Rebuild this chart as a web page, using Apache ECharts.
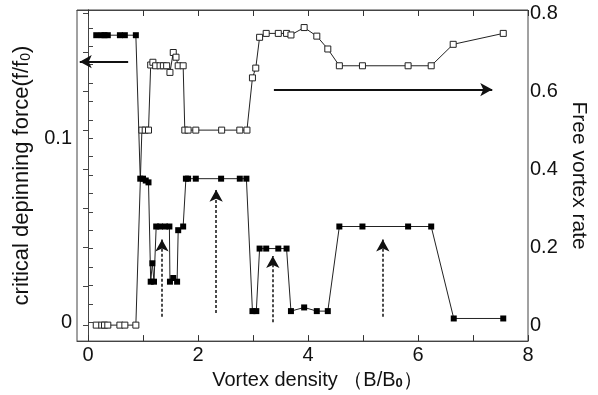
<!DOCTYPE html>
<html>
<head>
<meta charset="utf-8">
<script src="https://cdn.jsdelivr.net/npm/echarts@6/dist/echarts.min.js"></script>
<style>
  html, body { margin: 0; padding: 0; background: #fff; }
  #chart { width: 598px; height: 395px; }
</style>
</head>
<body>
<div id="chart"></div>
<script>
// critical depinning force (left axis, filled squares)
const forceX = [0.15, 0.25, 0.30, 0.36, 0.58, 0.67, 0.87, 0.95, 1.00, 1.05, 1.10, 1.14, 1.17, 1.20, 1.24, 1.31, 1.40, 1.48, 1.49, 1.55, 1.62, 1.64, 1.73, 1.78, 1.82, 1.96, 2.42, 2.76, 2.88, 2.99, 3.06, 3.12, 3.24, 3.46, 3.61, 3.69, 3.93, 4.16, 4.36, 4.57, 4.99, 5.82, 6.24, 6.65, 7.55]
const forceY = [0.156, 0.156, 0.156, 0.156, 0.156, 0.156, 0.156, 0.078, 0.078, 0.077, 0.076, 0.022, 0.032, 0.022, 0.052, 0.052, 0.052, 0.052, 0.022, 0.024, 0.022, 0.050, 0.052, 0.078, 0.078, 0.078, 0.078, 0.078, 0.078, 0.006, 0.006, 0.040, 0.040, 0.040, 0.040, 0.006, 0.008, 0.006, 0.006, 0.052, 0.052, 0.052, 0.052, 0.002, 0.002]

// free vortex rate (right axis, open squares)
const rateX = [0.15, 0.25, 0.30, 0.36, 0.58, 0.67, 0.87, 0.98, 1.04, 1.10, 1.14, 1.18, 1.23, 1.31, 1.37, 1.43, 1.49, 1.55, 1.60, 1.64, 1.73, 1.76, 1.82, 1.96, 2.43, 2.76, 2.89, 2.99, 3.05, 3.12, 3.24, 3.46, 3.61, 3.69, 3.93, 4.16, 4.36, 4.57, 4.99, 5.82, 6.24, 6.64, 7.55]
const rateY = [0, 0, 0, 0, 0, 0, 0, 0.50, 0.50, 0.50, 0.667, 0.674, 0.665, 0.665, 0.665, 0.665, 0.648, 0.699, 0.687, 0.665, 0.665, 0.50, 0.50, 0.50, 0.50, 0.50, 0.50, 0.634, 0.659, 0.738, 0.748, 0.748, 0.748, 0.744, 0.763, 0.741, 0.708, 0.665, 0.665, 0.665, 0.665, 0.720, 0.748]

// ticks and labels
const xTicks = [0, 1, 2, 3, 4, 5, 6, 7, 8]
const xLabels = [0, 2, 4, 6, 8]
const leftTicks = [0, 0.01, 0.02, 0.03, 0.04, 0.05, 0.06, 0.07, 0.08, 0.09, 0.1, 0.11, 0.12, 0.13, 0.14, 0.15, 0.16]
const leftLabels = [0, 0.1]
const rightTicks = [0, 0.1, 0.2, 0.3, 0.4, 0.5, 0.6, 0.7, 0.8]
const rightLabels = [0, 0.2, 0.4, 0.6, 0.8]

// annotation arrows [x1, y1, x2, y2] in data units
const axisArrows = [
  [0.73, 0.1416, -0.15, 0.1416], // points to left axis (force)
  [3.38, 0.604, 7.35, 0.604]     // points to right axis (rate)
]
const dashedArrows = [
  [1.345, 0.003, 1.345, 0.045],
  [2.33, 0.005, 2.33, 0.072],
  [3.36, 0.0, 3.36, 0.036],
  [5.36, 0.003, 5.36, 0.045]
]

const font = 'Liberation Sans, Arial, sans-serif'
const ink = '#111'
const axisInk = '#444'

const chart = echarts.init(document.getElementById('chart'))

// bottom and top x axes share the same scale; the top one only carries ticks
const xBase = {
  type: 'value',
  min: -0.2,
  max: 8,
  splitLine: { show: false },
  axisLine: { show: true, onZero: false, lineStyle: { color: axisInk, width: 1 } },
  axisTick: { show: true, inside: true, length: 6, customValues: xTicks, lineStyle: { color: '#333' } }
}

function arrowPair(a, style) {
  return [{ coord: [a[0], a[1]], lineStyle: style }, { coord: [a[2], a[3]] }]
}

chart.setOption({
  animation: false,
  backgroundColor: '#fff',
  grid: { left: 77, right: 70, top: 10, bottom: 52, show: true, borderColor: axisInk, borderWidth: 1, backgroundColor: 'transparent' },
  xAxis: [
    Object.assign({}, xBase, {
      position: 'bottom',
      name: '{a|Vortex density （B/B}{s|0}{a|）}',
      nameLocation: 'middle',
      nameGap: 24,
      nameTextStyle: {
        padding: [0, 0, 0, 30],
        rich: {
          a: { fontFamily: font, fontSize: 20, color: ink },
          s: { fontFamily: font, fontSize: 13, fontWeight: 'bold', color: ink, verticalAlign: 'bottom', padding: [6, 0, 0, 0] }
        }
      },
      axisLabel: { customValues: xLabels, fontFamily: font, fontSize: 20, color: ink, margin: 4 }
    }),
    Object.assign({}, xBase, {
      position: 'top',
      axisLabel: { show: false }
    })
  ],
  yAxis: [
    {
      type: 'value',
      position: 'left',
      min: -0.0103,
      max: 0.1697,
      splitLine: { show: false },
      axisLine: { show: true, lineStyle: { color: axisInk } },
      axisTick: { show: true, inside: true, length: 5, customValues: leftTicks, lineStyle: { color: axisInk } },
      axisLabel: { customValues: leftLabels, fontFamily: font, fontSize: 20, color: ink, margin: 5,
        formatter: (v) => String(v) },
      name: '{a|critical depinning force(f/f}{s|0}{a|)}',
      nameLocation: 'middle',
      nameGap: 37,
      nameRotate: 90,
      nameTextStyle: {
        rich: {
          a: { fontFamily: font, fontSize: 22, color: ink },
          s: { fontFamily: font, fontSize: 14, color: ink, verticalAlign: 'bottom', padding: [7, 0, 0, 0] }
        }
      }
    },
    {
      type: 'value',
      position: 'right',
      min: -0.041,
      max: 0.808,
      splitLine: { show: false },
      axisLine: { show: true, lineStyle: { color: axisInk } },
      axisTick: { show: true, inside: true, length: 5, customValues: rightTicks, lineStyle: { color: axisInk } },
      axisLabel: { customValues: rightLabels, fontFamily: font, fontSize: 20, color: ink, margin: 2,
        formatter: (v) => String(v) },
      name: 'Free vortex rate',
      nameLocation: 'middle',
      nameGap: 37,
      nameRotate: -90,
      nameTextStyle: { fontFamily: font, fontSize: 21, color: ink }
    }
  ],
  series: [
    {
      name: 'force',
      type: 'line',
      xAxisIndex: 0,
      yAxisIndex: 0,
      data: forceX.map((x, i) => [x, forceY[i]]),
      symbol: 'rect',
      symbolSize: 6,
      itemStyle: { color: '#000', borderColor: '#000', borderWidth: 0 },
      lineStyle: { color: '#222', width: 1 },
      markLine: {
        silent: true,
        symbol: ['none', 'arrow'],
        symbolSize: [10, 12],
        label: { show: false },
        data: axisArrows.slice(0, 1).map((a) => arrowPair(a, { type: 'solid', width: 2, color: '#111' }))
          .concat(dashedArrows.map((a) => arrowPair(a, { type: [3, 2], width: 1.5, color: '#111' })))
      }
    },
    {
      name: 'rate',
      type: 'line',
      xAxisIndex: 1,
      yAxisIndex: 1,
      data: rateX.map((x, i) => [x, rateY[i]]),
      symbol: 'rect',
      symbolSize: 6,
      itemStyle: { color: '#fff', borderColor: '#222', borderWidth: 1 },
      lineStyle: { color: '#222', width: 1 },
      markLine: {
        silent: true,
        symbol: ['none', 'arrow'],
        symbolSize: [10, 12],
        label: { show: false },
        data: axisArrows.slice(1).map((a) => arrowPair(a, { type: 'solid', width: 2, color: '#111' }))
      }
    }
  ]
})
</script>
</body>
</html>
